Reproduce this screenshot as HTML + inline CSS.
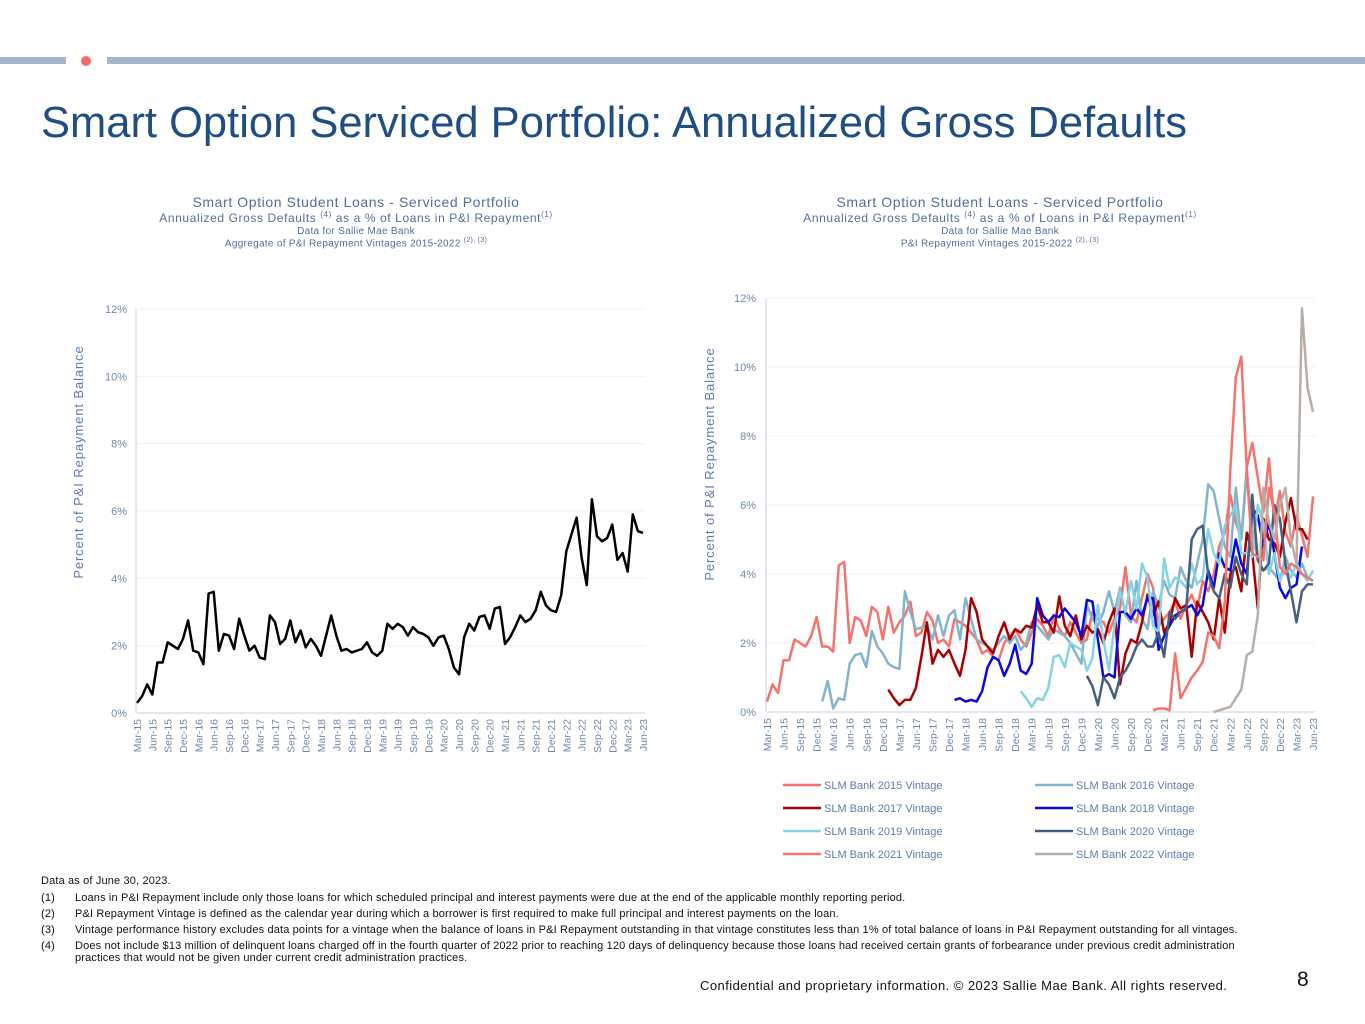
<!DOCTYPE html>
<html><head><meta charset="utf-8"><style>
body{margin:0;width:1365px;height:1024px;position:relative;background:#fff;font-family:"Liberation Sans",sans-serif;overflow:hidden}
.abs{position:absolute}
.ct{position:absolute;text-align:center;color:#4f6f9c;line-height:1.15;letter-spacing:0.6px}
.fn{position:absolute;left:41px;font-size:11px;color:#111;letter-spacing:0.15px}
.fn span{position:absolute;left:34px;white-space:nowrap}
</style></head><body>
<div class="abs" style="left:0;top:57px;width:66px;height:7px;background:#a5b5cc"></div>
<div class="abs" style="left:81px;top:56px;width:10px;height:10px;border-radius:50%;background:#f06b6b"></div>
<div class="abs" style="left:107px;top:57px;width:1258px;height:7px;background:#a5b5cc"></div>
<div class="abs" style="left:41px;top:99px;font-size:43.5px;color:#1f4e84;white-space:nowrap">Smart Option Serviced Portfolio: Annualized Gross Defaults</div>

<div class="ct" style="left:100px;top:194px;width:512px">
<div style="font-size:14px">Smart Option Student Loans - Serviced Portfolio</div>
<div style="font-size:12px">Annualized Gross Defaults <sup style="font-size:8px">(4)</sup> as a % of Loans in P&amp;I Repayment<sup style="font-size:8px">(1)</sup></div>
<div style="font-size:10px;letter-spacing:0.3px">Data for Sallie Mae Bank</div>
<div style="font-size:10px;letter-spacing:0.3px">Aggregate of P&amp;I Repayment Vintages 2015-2022 <sup style="font-size:7px">(2), (3)</sup></div></div>
<div class="ct" style="left:744px;top:194px;width:512px">
<div style="font-size:14px">Smart Option Student Loans - Serviced Portfolio</div>
<div style="font-size:12px">Annualized Gross Defaults <sup style="font-size:8px">(4)</sup> as a % of Loans in P&amp;I Repayment<sup style="font-size:8px">(1)</sup></div>
<div style="font-size:10px;letter-spacing:0.3px">Data for Sallie Mae Bank</div>
<div style="font-size:10px;letter-spacing:0.3px">P&amp;I Repayment Vintages 2015-2022 <sup style="font-size:7px">(2), (3)</sup></div></div>

<svg class="abs" style="left:0;top:0" width="1365" height="1024" id="svg"></svg>

<div class="fn" style="top:875px">Data as of June 30, 2023.</div>
<div class="fn" style="top:892px">(1)<span>Loans in P&amp;I Repayment include only those loans for which scheduled principal and interest payments were due at the end of the applicable monthly reporting period.</span></div>
<div class="fn" style="top:908px">(2)<span>P&amp;I Repayment Vintage is defined as the calendar year during which a borrower is first required to make full principal and interest payments on the loan.</span></div>
<div class="fn" style="top:924px">(3)<span>Vintage performance history excludes data points for a vintage when the balance of loans in P&amp;I Repayment outstanding in that vintage constitutes less than 1% of total balance of loans in P&amp;I Repayment outstanding for all vintages.</span></div>
<div class="fn" style="top:940px">(4)<span>Does not include $13 million of delinquent loans charged off in the fourth quarter of 2022 prior to reaching 120 days of delinquency because those loans had received certain grants of forbearance under previous credit administration<br>practices that would not be given under current credit administration practices.</span></div>
<div class="abs" style="left:700px;top:978px;font-size:13px;letter-spacing:0.45px;color:#111;white-space:nowrap">Confidential and proprietary information. © 2023 Sallie Mae Bank. All rights reserved.</div>
<div class="abs" style="left:1297px;top:968px;font-size:21px;color:#111">8</div>

<script>
const months=["Mar","Jun","Sep","Dec"];
const tickLabels=["0%","2%","4%","6%","8%","10%","12%"];
const tickValues=[0,2,4,6,8,10,12];
const aggregate=[0.3,0.5,0.85,0.55,1.5,1.5,2.1,2.0,1.9,2.2,2.75,1.85,1.8,1.45,3.55,3.6,1.85,2.35,2.3,1.9,2.8,2.3,1.85,2.0,1.65,1.6,2.9,2.7,2.05,2.2,2.75,2.1,2.45,1.95,2.2,2.0,1.7,2.3,2.9,2.3,1.85,1.9,1.8,1.85,1.9,2.1,1.8,1.7,1.85,2.65,2.5,2.65,2.55,2.3,2.55,2.4,2.35,2.25,2.0,2.25,2.3,1.9,1.35,1.15,2.25,2.65,2.45,2.85,2.9,2.5,3.1,3.15,2.05,2.25,2.55,2.9,2.7,2.8,3.05,3.6,3.2,3.05,3.0,3.5,4.8,5.3,5.8,4.6,3.8,6.35,5.25,5.1,5.2,5.6,4.55,4.75,4.2,5.9,5.4,5.35];
const v2015=[0.3,0.8,0.55,1.5,1.5,2.1,2.0,1.9,2.2,2.75,1.9,1.9,1.75,4.25,4.35,2.0,2.75,2.65,2.2,3.05,2.9,2.1,3.05,2.3,2.6,2.8,3.2,2.2,2.3,2.9,2.65,2.0,2.1,1.9,2.7,2.6,2.5,2.3,2.1,1.7,1.8,1.6,1.5,2.0,2.2,2.4,2.1,1.9,2.3,2.7,2.5,2.2,2.8,2.4,2.2,2.6,2.3,2.0,2.1,2.9,2.7,2.6,2.3,2.7,3.0,4.2,2.8,2.6,3.3,4.0,3.6,2.5,2.7,2.9,3.2,2.7,3.1,3.4,3.0,3.8,3.5,4.0,4.8,5.2,6.3,5.5,5.0,7.1,7.8,6.8,5.8,7.35,5.5,6.4,5.2,4.8,5.7,5.1,4.5,6.25];
const v2016=[0.3,0.9,0.1,0.4,0.35,1.4,1.65,1.7,1.3,2.35,1.9,1.7,1.4,1.3,1.25,3.5,2.9,2.4,2.45,2.5,2.1,2.8,2.2,2.8,2.95,2.1,3.3,2.7,2.1,2.0,1.9,1.8,2.0,2.2,2.0,2.2,1.8,2.0,2.6,2.5,2.3,2.1,2.4,2.3,2.2,2.0,1.7,1.4,3.1,2.7,2.5,2.9,3.5,2.9,3.6,2.8,2.6,3.8,2.7,2.4,3.5,3.1,3.8,3.4,3.3,4.2,3.8,3.6,4.3,5.0,6.6,6.4,5.6,4.8,4.5,6.5,5.0,7.0,5.3,4.4,4.1,4.2,4.0,3.8,4.5,4.1,3.9,4.3,3.9,3.8];
const v2017=[0.65,0.4,0.2,0.35,0.35,0.7,1.6,2.6,1.4,1.8,1.6,1.8,1.4,1.05,1.8,3.3,2.9,2.1,1.9,1.7,2.2,2.6,2.1,2.4,2.3,2.5,2.45,3.1,2.6,2.6,2.3,3.35,2.5,2.2,2.8,2.1,2.5,2.3,2.4,2.0,2.6,3.0,0.8,1.7,2.1,2.0,2.6,3.4,2.8,3.2,2.3,2.6,3.3,3.0,3.1,1.6,3.2,2.9,2.6,2.1,3.3,2.3,4.0,4.2,3.5,5.2,4.6,3.0,5.6,5.0,4.9,4.5,5.5,6.2,5.3,5.3,5.0];
const v2018=[0.35,0.4,0.3,0.35,0.3,0.6,1.3,1.6,1.5,1.05,1.4,1.95,1.2,1.1,1.4,3.3,2.8,2.6,2.8,2.75,3.0,2.8,2.6,2.2,3.25,3.2,2.1,1.0,1.1,1.0,2.9,2.9,2.7,3.0,2.8,3.3,3.3,1.8,2.2,2.5,2.8,2.9,3.0,3.1,2.8,3.1,4.1,3.6,4.6,4.2,4.1,5.0,4.3,4.0,5.9,5.7,4.8,5.5,4.6,3.6,3.3,3.6,3.7,4.8];
const v2019=[0.6,0.4,0.15,0.4,0.35,0.7,1.6,1.65,1.3,2.0,1.9,1.8,1.2,1.55,3.1,2.1,1.2,2.5,3.5,2.9,3.8,3.0,4.3,3.9,2.5,2.3,4.45,3.6,3.9,3.8,3.6,4.3,3.7,3.9,5.3,4.6,4.3,5.4,5.7,6.0,4.6,4.6,4.5,6.0,5.5,4.0,4.6,3.8,4.2,3.9,4.3,4.0,3.8,4.1];
const v2020=[1.05,0.75,0.2,1.0,0.8,0.4,1.0,1.2,1.5,1.9,2.1,1.9,1.9,2.3,1.6,2.9,2.7,2.9,3.0,5.0,5.3,5.4,4.0,3.5,3.3,4.0,3.6,4.5,4.0,3.7,6.3,4.4,4.1,4.3,6.0,5.6,4.3,3.5,2.6,3.5,3.7,3.7];
const v2021=[0.05,0.1,0.1,0.05,1.7,0.4,0.7,1.0,1.2,1.45,2.3,2.2,1.85,3.2,7.0,9.7,10.3,7.0,4.6,4.5,4.4,6.5,5.8,4.2,4.0,4.3,4.2,4.0,3.9,3.8];
const v2022=[0,0.05,0.1,0.15,0.4,0.65,1.65,1.75,2.8,6.5,5.5,5.0,6.0,6.5,5.0,4.3,11.7,9.4,8.7];
const vintageNames=["SLM Bank 2015 Vintage","SLM Bank 2016 Vintage","SLM Bank 2017 Vintage","SLM Bank 2018 Vintage","SLM Bank 2019 Vintage","SLM Bank 2020 Vintage","SLM Bank 2021 Vintage","SLM Bank 2022 Vintage"];
const vintageStarts=[0,10,22,34,46,58,70,81];

const NS="http://www.w3.org/2000/svg",svg=document.getElementById('svg');
function mk(t,a,p){const e=document.createElementNS(NS,t);for(const k in a)e.setAttribute(k,a[k]);(p||svg).appendChild(e);return e;}
const N=100;
function labelFor(i){const y=15+Math.floor((i+2)/12);return months[(i/3)%4]+"-"+y;}
function axes(x0,x1,y0,y12,yLabelX,titleX,titleY,name){
  const sx=i=>x0+(x1-x0)*i/(N-1), sy=v=>y0+(y12-y0)*v/12;
  tickValues.forEach((v,k)=>{
    const g=mk('line',{x1:x0,x2:x1+2,y1:sy(v),y2:sy(v),stroke:v?'#f0f0f0':'#c8d0dc','stroke-width':1});
    
    const t=mk('text',{x:yLabelX,y:sy(v)+4,'text-anchor':'end','font-size':11,fill:'#6f88aa'});t.textContent=tickLabels[k];
    
  });
  const ax=mk('line',{x1:x0-1,x2:x0-1,y1:y12,y2:y0,stroke:'#c8d0dc'});
  
  for(let i=0;i<N;i+=3){const x=sx(i)+4;const t=mk('text',{transform:`translate(${x},${y0+6}) rotate(-90)`,'text-anchor':'end','font-size':10.5,fill:'#6f88aa'});t.textContent=labelFor(i);
    }
  const yt=mk('text',{transform:`translate(${titleX},${titleY}) rotate(-90)`,'text-anchor':'middle','font-size':13,'letter-spacing':'0.9',fill:'#5b7db0'});
  yt.textContent="Percent of P&I Repayment  Balance";
  
  return [sx,sy];
}
function line(vals,start,sx,sy,color,w,name){
  const d=vals.map((v,i)=>(i?'L':'M')+sx(start+i).toFixed(1)+','+sy(v).toFixed(1)).join('');
  const p=mk('path',{d,fill:'none',stroke:color,'stroke-width':w,'stroke-linejoin':'round'});
  
}
let [lx,ly]=axes(137,643,713,309,127,83,462,'left-chart');
line(aggregate,0,lx,ly,'#000',2.5,'aggregate-default-line');
let [rx,ry]=axes(767,1313,712,298,756,714,464,'right-chart');
const colors=['#f4736d','#84b4cc','#a80000','#0a0ae0','#85d3e3','#44607f','#f4736d','#b8aea8'];
const series=[v2015,v2016,v2017,v2018,v2019,v2020,v2021,v2022];
series.forEach((s,k)=>line(s,vintageStarts[k],rx,ry,colors[k],2.5,'vintage-'+(2015+k)+'-line'));
vintageNames.forEach((n,k)=>{
  const x=783+(k%2)*252,y=785+Math.floor(k/2)*23;
  const l=mk('line',{x1:x,x2:x+38,y1:y,y2:y,stroke:colors[k],'stroke-width':2.5});
  
  const t=mk('text',{x:x+41,y:y+4,'font-size':11,fill:'#5b7db0'});t.textContent=n;
  
});
</script>
</body></html>
